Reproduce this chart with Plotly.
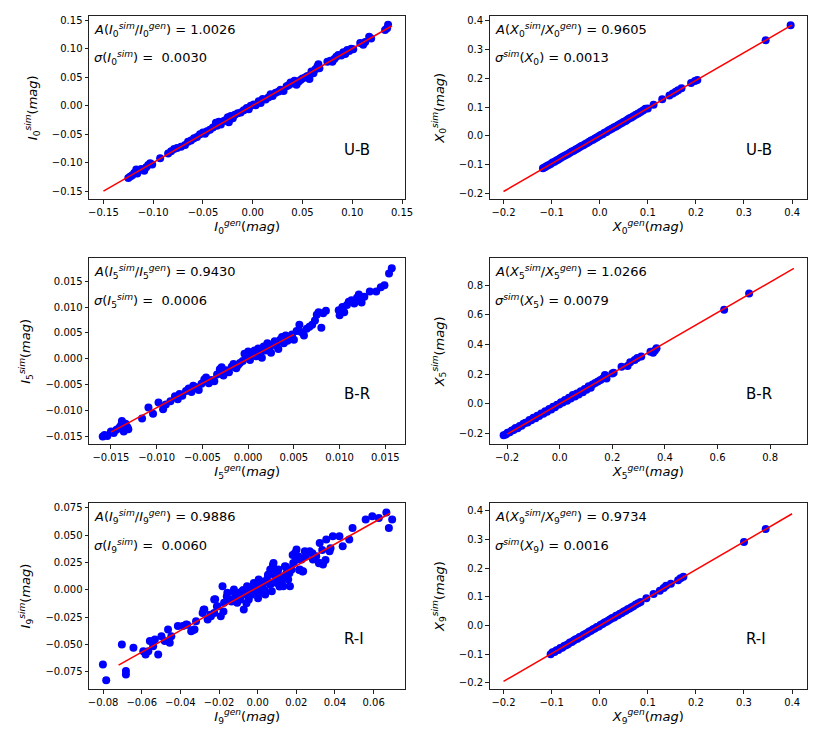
import plotly.graph_objects as go

# U-B, index 0 (left): I0 gen vs sim
i0_gen = [-0.125, -0.123, -0.121, -0.119, -0.117, -0.116, -0.114, -0.112, -0.109, -0.107, -0.105, -0.103, -0.101,
          -0.093, -0.085, -0.082, -0.079, -0.076, -0.072, -0.068, -0.065, -0.062, -0.059, -0.056, -0.053, -0.050,
          -0.048, -0.046, -0.043, -0.040, -0.037, -0.036, -0.034, -0.032, -0.029, -0.027, -0.025, -0.024, -0.022,
          -0.020, -0.018, -0.015, -0.012, -0.009, -0.006, -0.004, -0.002, 0.001, 0.003, 0.006, 0.008, 0.010, 0.013,
          0.016, 0.018, 0.020, 0.023, 0.026, 0.028, 0.031, 0.034, 0.036, 0.038, 0.040, 0.042, 0.044, 0.046, 0.048,
          0.050, 0.053, 0.055, 0.057, 0.059, 0.061, 0.063, 0.065, 0.066, 0.067, 0.075, 0.078, 0.080, 0.082, 0.084,
          0.086, 0.089, 0.091, 0.093, 0.095, 0.097, 0.099, 0.101, 0.108, 0.111, 0.113, 0.117, 0.119, 0.133, 0.135, 0.136]
i0_sim = [-0.127, -0.124, -0.122, -0.118, -0.112, -0.119, -0.113, -0.111, -0.114, -0.108, -0.104, -0.101, -0.103,
          -0.092, -0.084, -0.080, -0.076, -0.074, -0.072, -0.069, -0.063, -0.061, -0.057, -0.055, -0.050, -0.047,
          -0.049, -0.045, -0.042, -0.038, -0.030, -0.035, -0.028, -0.033, -0.027, -0.025, -0.020, -0.029, -0.018,
          -0.022, -0.016, -0.013, -0.012, -0.008, -0.004, -0.006, 0.000, 0.002, 0.001, 0.008, 0.005, 0.012, 0.011,
          0.015, 0.020, 0.017, 0.023, 0.025, 0.028, 0.026, 0.034, 0.036, 0.041, 0.039, 0.044, 0.037, 0.042, 0.045,
          0.048, 0.050, 0.052, 0.047, 0.060, 0.057, 0.064, 0.069, 0.073, 0.066, 0.077, 0.079, 0.077, 0.082, 0.086,
          0.089, 0.088, 0.094, 0.091, 0.098, 0.096, 0.100, 0.099, 0.110, 0.107, 0.112, 0.121, 0.118, 0.133, 0.136, 0.142]
i0_fit_x = [-0.15, 0.14]
i0_fit_y = [-0.150, 0.1404]

# U-B, index 0 (right): X0 gen vs sim
x0_gen = [-0.118, -0.114, -0.110, -0.106, -0.102, -0.098, -0.094, -0.090, -0.086, -0.082, -0.078, -0.074, -0.070,
          -0.066, -0.062, -0.058, -0.054, -0.050, -0.046, -0.042, -0.038, -0.034, -0.030, -0.026, -0.022, -0.018,
          -0.014, -0.010, -0.006, -0.002, 0.002, 0.006, 0.010, 0.014, 0.018, 0.022, 0.026, 0.030, 0.034, 0.038,
          0.042, 0.046, 0.050, 0.054, 0.058, 0.062, 0.066, 0.070, 0.075, 0.080, 0.085, 0.090, 0.095, 0.100, 0.112,
          0.130, 0.145, 0.152, 0.158, 0.163, 0.170, 0.190, 0.198, 0.203, 0.345, 0.397]
x0_sim = [-0.112, -0.108, -0.104, -0.100, -0.097, -0.092, -0.089, -0.085, -0.081, -0.077, -0.073, -0.069, -0.066,
          -0.062, -0.058, -0.054, -0.051, -0.047, -0.043, -0.039, -0.035, -0.032, -0.028, -0.024, -0.020, -0.016,
          -0.013, -0.009, -0.005, -0.001, 0.003, 0.006, 0.011, 0.014, 0.019, 0.022, 0.026, 0.030, 0.033, 0.037,
          0.041, 0.045, 0.049, 0.052, 0.057, 0.061, 0.064, 0.068, 0.073, 0.078, 0.083, 0.088, 0.094, 0.095, 0.108,
          0.127, 0.140, 0.147, 0.153, 0.158, 0.165, 0.183, 0.190, 0.194, 0.331, 0.383]
x0_fit_x = [-0.2, 0.4]
x0_fit_y = [-0.1921, 0.3842]

# B-R, index 5 (left): I5
i5_gen = [-0.0159, -0.0157, -0.0154, -0.0150, -0.0147, -0.0144, -0.0141, -0.0139, -0.0138, -0.0136, -0.0134, -0.0132,
          -0.0131, -0.0116, -0.0109, -0.0104, -0.0098, -0.0093, -0.0090, -0.0085, -0.0080, -0.0077, -0.0075, -0.0072,
          -0.0068, -0.0065, -0.0062, -0.0060, -0.0057, -0.0054, -0.0051, -0.0048, -0.0046, -0.0043, -0.0040, -0.0037,
          -0.0034, -0.0031, -0.0029, -0.0027, -0.0024, -0.0021, -0.0018, -0.0016, -0.0013, -0.0011, -0.0009, -0.0006,
          -0.0004, -0.0002, 0.0000, 0.0002, 0.0005, 0.0007, 0.0009, 0.0011, 0.0013, 0.0015, 0.0017, 0.0019, 0.0021,
          0.0023, 0.0025, 0.0027, 0.0029, 0.0031, 0.0033, 0.0035, 0.0037, 0.0039, 0.0041, 0.0043, 0.0045, 0.0048,
          0.0050, 0.0053, 0.0056, 0.0058, 0.0061, 0.0064, 0.0067, 0.0070, 0.0073, 0.0075, 0.0077, 0.0080, 0.0082,
          0.0085, 0.0099, 0.0100, 0.0103, 0.0105, 0.0108, 0.0110, 0.0113, 0.0116, 0.0119, 0.0121, 0.0124, 0.0127,
          0.0133, 0.0140, 0.0145, 0.0149, 0.0154, 0.0157]
i5_sim = [-0.0150, -0.0147, -0.0149, -0.0140, -0.0143, -0.0137, -0.0133, -0.0128, -0.0120, -0.0140, -0.0125, -0.0132,
          -0.0136, -0.0115, -0.0094, -0.0106, -0.0084, -0.0097, -0.0088, -0.0082, -0.0072, -0.0078, -0.0068, -0.0071,
          -0.0062, -0.0057, -0.0064, -0.0052, -0.0055, -0.0060, -0.0048, -0.0040, -0.0036, -0.0047, -0.0041, -0.0043,
          -0.0030, -0.0020, -0.0016, -0.0032, -0.0022, -0.0026, -0.0015, -0.0010, -0.0018, -0.0012, -0.0008, -0.0004,
          0.0010, 0.0003, 0.0014, -0.0002, 0.0008, 0.0016, 0.0005, 0.0020, 0.0011, 0.0002, 0.0024, 0.0016, 0.0030,
          0.0021, 0.0012, 0.0028, 0.0034, 0.0025, 0.0019, 0.0037, 0.0042, 0.0030, 0.0045, 0.0035, 0.0040, 0.0047,
          0.0037, 0.0054, 0.0066, 0.0052, 0.0045, 0.0058, 0.0062, 0.0066, 0.0074, 0.0085, 0.0090, 0.0060, 0.0088,
          0.0093, 0.0094, 0.0084, 0.0100, 0.0090, 0.0104, 0.0110, 0.0113, 0.0107, 0.0118, 0.0124, 0.0109, 0.0120,
          0.0130, 0.0130, 0.0138, 0.0142, 0.0165, 0.0175]
i5_fit_x = [-0.015, 0.005]
i5_fit_y = [-0.01415, 0.00472]

# B-R, index 5 (right): X5
x5_gen = [-0.213, -0.205, -0.198, -0.190, -0.182, -0.175, -0.168, -0.160, -0.152, -0.145, -0.138, -0.130, -0.122,
          -0.115, -0.108, -0.100, -0.092, -0.085, -0.078, -0.070, -0.062, -0.055, -0.048, -0.040, -0.032, -0.025,
          -0.018, -0.010, -0.002, 0.005, 0.012, 0.020, 0.028, 0.035, 0.042, 0.050, 0.058, 0.065, 0.072, 0.080,
          0.088, 0.095, 0.102, 0.110, 0.118, 0.125, 0.135, 0.145, 0.155, 0.165, 0.172, 0.178, 0.200, 0.205, 0.235,
          0.258, 0.268, 0.285, 0.295, 0.310, 0.345, 0.355, 0.362, 0.368, 0.625, 0.720]
x5_sim = [-0.212, -0.208, -0.195, -0.192, -0.180, -0.177, -0.163, -0.165, -0.150, -0.148, -0.135, -0.128, -0.126,
          -0.110, -0.112, -0.095, -0.098, -0.080, -0.083, -0.066, -0.068, -0.050, -0.054, -0.036, -0.038, -0.020,
          -0.024, -0.006, -0.004, 0.010, 0.008, 0.025, 0.020, 0.040, 0.035, 0.060, 0.050, 0.070, 0.062, 0.085,
          0.078, 0.100, 0.095, 0.118, 0.108, 0.130, 0.140, 0.150, 0.160, 0.172, 0.195, 0.170, 0.205, 0.210, 0.250,
          0.255, 0.280, 0.295, 0.310, 0.320, 0.352, 0.345, 0.360, 0.375, 0.635, 0.745]
x5_fit_x = [-0.2, 0.89]
x5_fit_y = [-0.2053, 0.9137]

# R-I, index 9 (left): I9
i9_gen = [-0.0801, -0.0784, -0.0703, -0.0682, -0.0682, -0.0643, -0.0592, -0.0580, -0.0566, -0.0558, -0.0541, -0.0532,
          -0.0515, -0.0498, -0.0481, -0.0464, -0.0455, -0.0447, -0.0413, -0.0387, -0.0370, -0.0344, -0.0327, -0.0319,
          -0.0285, -0.0276, -0.0259, -0.0242, -0.0225, -0.0225, -0.0208, -0.0191, -0.0182, -0.0174, -0.0157, -0.0140,
          -0.0123, -0.0114, -0.0106, -0.0097, -0.0089, -0.0080, -0.0072, -0.0063, -0.0055, -0.0046, -0.0038, -0.0020,
          -0.0012, -0.0004, 0.0005, 0.0014, 0.0022, 0.0031, 0.0039, 0.0048, 0.0056, 0.0065, 0.0065, 0.0073, 0.0082,
          0.0090, 0.0099, 0.0107, 0.0116, 0.0124, 0.0133, 0.0141, 0.0150, 0.0158, 0.0167, 0.0176, 0.0184, 0.0193,
          0.0201, 0.0210, 0.0218, 0.0227, 0.0235, 0.0244, 0.0252, 0.0269, 0.0286, 0.0303, 0.0321, 0.0321, 0.0338,
          0.0355, 0.0372, 0.0389, 0.0423, 0.0440, 0.0474, 0.0491, 0.0559, 0.0593, 0.0627, 0.0666, 0.0679, 0.0696,
          -0.0280, -0.0245, -0.0211, -0.0177, -0.0160, -0.0135, -0.0118, -0.0092, -0.0075, -0.0058, -0.0032, -0.0015,
          0.0002, 0.0019, 0.0036, 0.0053, 0.0070, 0.0079, 0.0096, 0.0113, 0.0130, 0.0147, 0.0164, 0.0181, 0.0198,
          0.0215, 0.0232, 0.0249, 0.0283, 0.0317, 0.0334, 0.0351, 0.0377, -0.0220, -0.0365, -0.0331]
i9_sim = [-0.0683, -0.0827, -0.0501, -0.0744, -0.0775, -0.0531, -0.0562, -0.0592, -0.0562, -0.0470, -0.0516, -0.0455,
          -0.0592, -0.0425, -0.0470, -0.0364, -0.0486, -0.0425, -0.0333, -0.0333, -0.0318, -0.0379, -0.0364, -0.0288,
          -0.0212, -0.0181, -0.0272, -0.0242, -0.0090, -0.0212, -0.0151, -0.0242, 0.0032, -0.0120, -0.0029, -0.0090,
          0.0002, -0.0059, -0.0120, -0.0029, -0.0090, -0.0014, -0.0181, -0.0044, 0.0032, -0.0090, 0.0002, 0.0062,
          -0.0014, 0.0047, 0.0093, -0.0029, 0.0017, 0.0062, -0.0044, 0.0093, 0.0139, 0.0184, 0.0047, -0.0014, 0.0245,
          0.0123, 0.0062, 0.0184, 0.0123, 0.0078, 0.0032, 0.0215, 0.0154, 0.0093, 0.0032, 0.0184, 0.0245, 0.0336,
          0.0367, 0.0306, 0.0184, 0.0276, 0.0169, 0.0352, 0.0336, 0.0352, 0.0276, 0.0306, 0.0245, 0.0428, 0.0230,
          0.0458, 0.0352, 0.0489, 0.0489, 0.0397, 0.0458, 0.0565, 0.0641, 0.0671, 0.0656, 0.0705, 0.0565, 0.0641,
          -0.0184, -0.0230, -0.0154, -0.0199, -0.0063, -0.0108, -0.0032, -0.0078, -0.0002, -0.0123, -0.0047, 0.0029,
          -0.0078, 0.0074, -0.0002, 0.0135, 0.0059, 0.0227, 0.0166, 0.0029, 0.0120, 0.0211, 0.0151, 0.0318, 0.0272,
          0.0181, 0.0166, 0.0303, 0.0333, 0.0242, 0.0364, 0.0272, 0.0379, -0.0087, -0.0321, -0.0367]
i9_fit_x = [-0.072, 0.0685]
i9_fit_y = [-0.0689, 0.0699]

# R-I, index 9 (right): X9
x9_gen = [-0.102, -0.098, -0.094, -0.090, -0.086, -0.082, -0.078, -0.074, -0.070, -0.066, -0.062, -0.058, -0.054,
          -0.050, -0.046, -0.042, -0.038, -0.034, -0.030, -0.026, -0.022, -0.018, -0.014, -0.010, -0.006, -0.002,
          0.002, 0.006, 0.010, 0.014, 0.018, 0.022, 0.026, 0.030, 0.034, 0.038, 0.042, 0.046, 0.050, 0.054, 0.058,
          0.062, 0.066, 0.070, 0.075, 0.080, 0.085, 0.097, 0.112, 0.125, 0.133, 0.138, 0.148, 0.163, 0.168, 0.174,
          0.300, 0.345]
x9_sim = [-0.100, -0.093, -0.092, -0.086, -0.085, -0.078, -0.077, -0.071, -0.069, -0.065, -0.059, -0.057, -0.052,
          -0.048, -0.046, -0.040, -0.038, -0.033, -0.029, -0.026, -0.021, -0.018, -0.013, -0.010, -0.005, -0.003,
          0.003, 0.005, 0.011, 0.013, 0.018, 0.022, 0.026, 0.028, 0.034, 0.036, 0.041, 0.044, 0.049, 0.052, 0.057,
          0.059, 0.064, 0.067, 0.073, 0.078, 0.082, 0.095, 0.110, 0.121, 0.131, 0.139, 0.146, 0.158, 0.165, 0.170,
          0.291, 0.336]
x9_fit_x = [-0.2, 0.4]
x9_fit_y = [-0.1947, 0.3894]

FONT = "DejaVu Sans"


def sym(name, idx, sup):
    return "<i>%s</i><sub>%s</sub><sup><i>%s</i></sup>" % (name, idx, sup)


panels = [
    dict(gx=i0_gen, gy=i0_sim, fx=i0_fit_x, fy=i0_fit_y, idx="0", v="I",
         t1="<i>A</i>(%s/%s) = 1.0026" % (sym("I", "0", "sim"), sym("I", "0", "gen")),
         t2="<i>σ</i>(%s) = &nbsp;0.0030" % sym("I", "0", "sim"), lab="U-B",
         xr=[-0.1645, 0.1535], yr=[-0.1645, 0.1575], xd=0.05, yd=0.05, xf=".2f", yf=".2f"),
    dict(gx=x0_gen, gy=x0_sim, fx=x0_fit_x, fy=x0_fit_y, idx="0", v="X",
         t1="<i>A</i>(%s/%s) = 0.9605" % (sym("X", "0", "sim"), sym("X", "0", "gen")),
         t2="<i>σ</i><sup><i>sim</i></sup>(<i>X</i><sub>0</sub>) = 0.0013", lab="U-B",
         xr=[-0.229, 0.431], yr=[-0.2196, 0.415], xd=0.1, yd=0.1, xf=".1f", yf=".1f"),
    dict(gx=i5_gen, gy=i5_sim, fx=i5_fit_x, fy=i5_fit_y, idx="5", v="I",
         t1="<i>A</i>(%s/%s) = 0.9430" % (sym("I", "5", "sim"), sym("I", "5", "gen")),
         t2="<i>σ</i>(%s) = &nbsp;0.0006" % sym("I", "5", "sim"), lab="B-R",
         xr=[-0.0174, 0.0172], yr=[-0.0165, 0.0194], xd=0.005, yd=0.005, xf=".3f", yf=".3f"),
    dict(gx=x5_gen, gy=x5_sim, fx=x5_fit_x, fy=x5_fit_y, idx="5", v="X",
         t1="<i>A</i>(%s/%s) = 1.0266" % (sym("X", "5", "sim"), sym("X", "5", "gen")),
         t2="<i>σ</i><sup><i>sim</i></sup>(<i>X</i><sub>5</sub>) = 0.0079", lab="B-R",
         xr=[-0.2665, 0.940], yr=[-0.274, 0.982], xd=0.2, yd=0.2, xf=".1f", yf=".1f"),
    dict(gx=i9_gen, gy=i9_sim, fx=i9_fit_x, fy=i9_fit_y, idx="9", v="I",
         t1="<i>A</i>(%s/%s) = 0.9886" % (sym("I", "9", "sim"), sym("I", "9", "gen")),
         t2="<i>σ</i>(%s) = &nbsp;0.0060" % sym("I", "9", "sim"), lab="R-I",
         xr=[-0.0873, 0.0765], yr=[-0.0908, 0.0793], xd=0.02, yd=0.025, xf=".2f", yf=".3f"),
    dict(gx=x9_gen, gy=x9_sim, fx=x9_fit_x, fy=x9_fit_y, idx="9", v="X",
         t1="<i>A</i>(%s/%s) = 0.9734" % (sym("X", "9", "sim"), sym("X", "9", "gen")),
         t2="<i>σ</i><sup><i>sim</i></sup>(<i>X</i><sub>9</sub>) = 0.0016", lab="R-I",
         xr=[-0.229, 0.431], yr=[-0.221, 0.427], xd=0.1, yd=0.1, xf=".1f", yf=".1f"),
]

# the page body adds 8px around the figure, so the figure is 16px smaller than the window
xdoms = [[0.0, 0.4408], [0.5579, 1.0]]
ydoms = [[0.7274, 1.0], [0.3635, 0.6399], [0.0, 0.2764]]

fig = go.Figure()
annotations = []
for k, p in enumerate(panels):
    n = k + 1
    xa = "x" if n == 1 else "x%d" % n
    ya = "y" if n == 1 else "y%d" % n
    fig.add_trace(go.Scatter(x=p["gx"], y=p["gy"], mode="markers", xaxis=xa, yaxis=ya,
                             marker=dict(color="blue", size=8), showlegend=False))
    fig.add_trace(go.Scatter(x=p["fx"], y=p["fy"], mode="lines", xaxis=xa, yaxis=ya,
                             line=dict(color="red", width=1.5), showlegend=False))
    row, col = k // 2, k % 2
    common = dict(showline=True, mirror=True, linecolor="#222", linewidth=1, ticks="outside",
                  ticklen=3.5, tickcolor="#222", showgrid=False, zeroline=False,
                  tickfont=dict(family=FONT, size=10, color="black"))
    fig.update_layout({
        "xaxis" if n == 1 else "xaxis%d" % n: dict(
            domain=xdoms[col], anchor=ya, range=p["xr"], dtick=p["xd"], tick0=0, tickformat=p["xf"],
            title=dict(text="%s(<i>mag</i>)" % sym(p["v"], p["idx"], "gen"),
                       font=dict(family=FONT, size=13, color="black"), standoff=4),
            **common),
        "yaxis" if n == 1 else "yaxis%d" % n: dict(
            domain=ydoms[row], anchor=xa, range=p["yr"], dtick=p["yd"], tick0=0, tickformat=p["yf"],
            title=dict(text="%s(<i>mag</i>)" % sym(p["v"], p["idx"], "sim"),
                       font=dict(family=FONT, size=13, color="black"), standoff=11),
            **common),
    })
    xd = xa + " domain"
    yd = ya + " domain"
    annotations += [
        dict(text=p["t1"], x=0.01, y=0.925, xref=xd, yref=yd, xanchor="left", yanchor="middle",
             showarrow=False, font=dict(family=FONT, size=13, color="black")),
        dict(text=p["t2"], x=0.01, y=0.77, xref=xd, yref=yd, xanchor="left", yanchor="middle",
             showarrow=False, font=dict(family=FONT, size=13, color="black")),
        dict(text=p["lab"], x=0.80, y=0.27, xref=xd, yref=yd, xanchor="left", yanchor="middle",
             showarrow=False, font=dict(family=FONT, size=15, color="black")),
    ]

fig.update_layout(width=814, height=731, margin=dict(l=81, r=7, t=7, b=50),
                  plot_bgcolor="white", paper_bgcolor="white", annotations=annotations,
                  font=dict(family=FONT, color="black"))
fig.write_html("out.html")
